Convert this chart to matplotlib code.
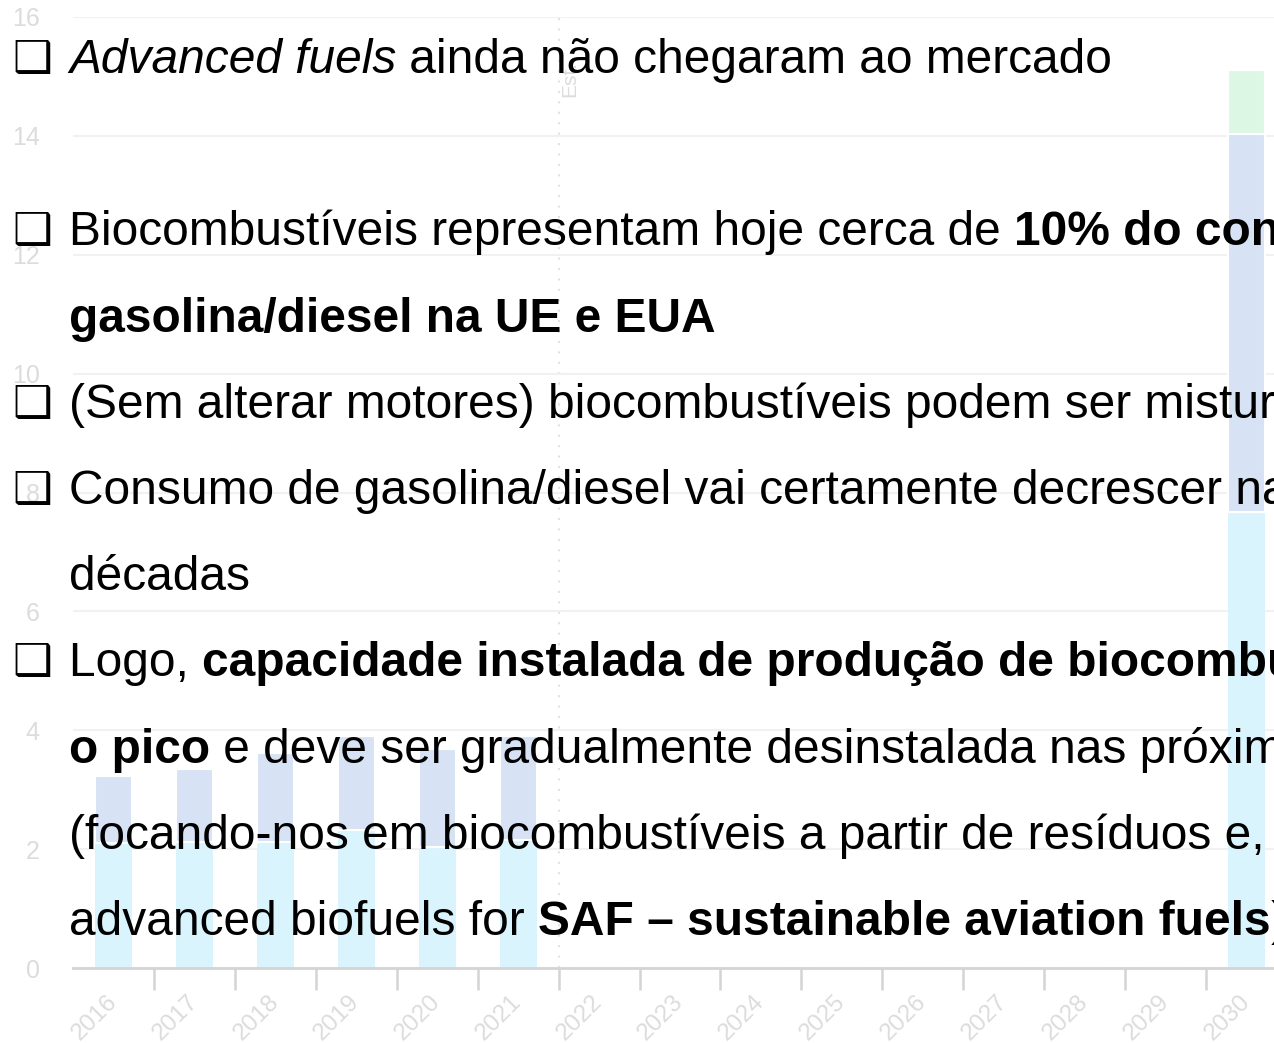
'''
Slide: biofuels bullet text over a faded stacked bar chart (capacity, 2016-2030).
'''

import matplotlib
matplotlib.use("Agg")
import matplotlib.pyplot as plt


#######################################################
### Data

years = [str(y) for y in range(2016, 2031)]

# stacked segments (bottom -> top), 0 where no bar
conventional = [2.10, 2.12, 2.12, 2.32, 2.04, 2.16, 0, 0, 0, 0, 0, 0, 0, 0, 7.67]
biodiesel = [1.13, 1.23, 1.49, 1.58, 1.64, 1.74, 0, 0, 0, 0, 0, 0, 0, 0, 6.36]
advanced = [0, 0, 0, 0, 0, 0, 0, 0, 0, 0, 0, 0, 0, 0, 1.08]

y_ticks = [0, 2, 4, 6, 8, 10, 12, 14, 16]

# bullet lines: (has_box, [(text, weight, style), ...])
lines = [
    (True, [("Advanced fuels", "normal", "italic"),
            (" ainda não chegaram ao mercado", "normal", "normal")]),
    None,
    (True, [("Biocombustíveis representam hoje cerca de ", "normal", "normal"),
            ("10% do consumo de", "bold", "normal")]),
    (False, [("gasolina/diesel na UE e EUA", "bold", "normal")]),
    (True, [("(Sem alterar motores) biocombustíveis podem ser misturados", "normal", "normal")]),
    (True, [("Consumo de gasolina/diesel vai certamente decrescer nas próximas", "normal", "normal")]),
    (False, [("décadas", "normal", "normal")]),
    (True, [("Logo, ", "normal", "normal"),
            ("capacidade instalada de produção de biocombustíveis atingiu", "bold", "normal")]),
    (False, [("o pico", "bold", "normal"),
             (" e deve ser gradualmente desinstalada nas próximas décadas", "normal", "normal")]),
    (False, [("(focando-nos em biocombustíveis a partir de resíduos e, futuramente, em", "normal", "normal")]),
    (False, [("advanced biofuels for ", "normal", "normal"),
             ("SAF – sustainable aviation fuels", "bold", "normal"),
             (")", "normal", "normal")]),
]


#######################################################
### Chart

W, H = 1274, 1043
FONT = "Liberation Sans"
GREY = "#dcdcdc"

fig = plt.figure(figsize=(W / 100, H / 100), dpi=100)

ax = fig.add_axes([73 / W, 75 / H, 1214 / W, 951 / H])

x = range(len(years))
bar_w = 0.46

ax.bar(x, conventional, width=bar_w, color="#daf4fd", zorder=2)
ax.bar(x, biodiesel, width=bar_w, bottom=conventional,
       color="#d7e3f5", edgecolor="white", linewidth=1.5, zorder=2)
bottom2 = [a + b for a, b in zip(conventional, biodiesel)]
ax.bar(x, advanced, width=bar_w, bottom=bottom2,
       color="#dcf8e4", edgecolor="white", linewidth=1.5, zorder=2)

ax.set_xlim(-0.5, len(years) - 0.5)
ax.set_ylim(0, 16)

for s in ["top", "right", "left"]:
    ax.spines[s].set_visible(False)
ax.spines["bottom"].set_color("#d4d4d4")
ax.spines["bottom"].set_linewidth(2)

ax.set_yticks(y_ticks)
ax.set_yticklabels([str(v) for v in y_ticks], fontsize=18,
                   color=GREY, family=FONT)
ax.tick_params(axis="y", length=0, pad=24)
ax.grid(axis="y", color="#f1f1f1", linewidth=1.5, zorder=0)

ax.set_xticks(list(x))
ax.set_xticklabels(years, rotation=45, ha="right", va="center",
                   rotation_mode="anchor", fontsize=17.5,
                   color=GREY, family=FONT)
ax.tick_params(axis="x", which="major", length=0, pad=22)
ax.set_xticks([i + 0.5 for i in range(len(years) - 1)], minor=True)
ax.tick_params(axis="x", which="minor", length=16, width=1.8,
               color="#d4d4d4")

# history / projection divider
ax.axvline(5.5, color="#e2e2e2", linestyle=(0, (1, 4)),
           linewidth=1.5, zorder=1)
ax.text(5.64, 14.65, "Est.", rotation=90, ha="center", va="bottom",
        fontsize=15, color=GREY, family=FONT)


#######################################################
### Slide text

renderer = fig.canvas.get_renderer()


def run_width(txt, size, weight, style):
    # measure with guard chars so edge spaces count
    t1 = fig.text(0, 0, "|" + txt + "|", fontsize=size, fontweight=weight,
                  fontstyle=style, family=FONT)
    t2 = fig.text(0, 0, "||", fontsize=size, fontweight=weight,
                  fontstyle=style, family=FONT)
    w = (t1.get_window_extent(renderer).width
         - t2.get_window_extent(renderer).width)
    t1.remove()
    t2.remove()
    return w


def draw_line(x0, base_y, runs, size):
    xp = x0
    for txt, weight, style in runs:
        fig.text(xp / W, 1 - base_y / H, txt, fontsize=size,
                 fontweight=weight, fontstyle=style, family=FONT,
                 va="baseline", ha="left", color="black", zorder=5)
        xp += run_width(txt, size, weight, style)


size = 34.5
first_base = 73
step = 86.2

for i, line in enumerate(lines):
    if line is None:
        continue
    has_box, runs = line
    base = first_base + i * step
    if has_box:
        fig.text(12 / W, 1 - (base - 1) / H, "\u2751", fontsize=32,
                 fontweight="bold", family="DejaVu Sans",
                 va="baseline", ha="left", color="black", zorder=5)
    draw_line(69, base, runs, size)


fig.savefig("out.png", dpi=100)
